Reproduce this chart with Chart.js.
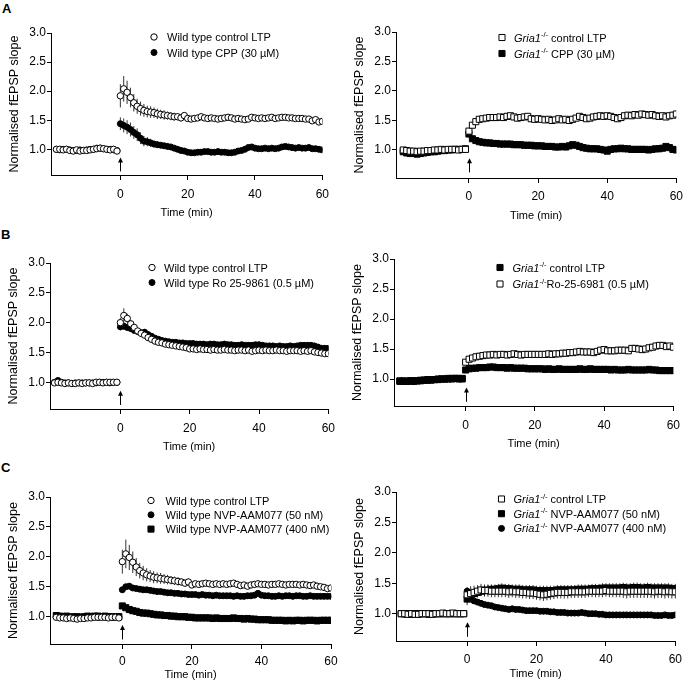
<!DOCTYPE html>
<html>
<head>
<meta charset="utf-8">
<script src="https://cdn.jsdelivr.net/npm/chart.js@4/dist/chart.umd.min.js"></script>
<style>
  html, body { margin:0; padding:0; background:#fff; overflow:hidden; }
  body { width:684px; height:683px; position:relative; }
  .lbl { position:absolute; font: bold 13px "Liberation Sans", Arial, sans-serif; line-height:13px; color:#000; }
</style>
</head>
<body>
<div class="lbl" style="left:2px;top:2px">A</div>
<div class="lbl" style="left:1px;top:228px">B</div>
<div class="lbl" style="left:1px;top:461px">C</div>
<script>
// ---------- shared axes ----------
const TIME_PRE  = [-19,-18,-17,-16,-15,-14,-13,-12,-11,-10,-9,-8,-7,-6,-5,-4,-3,-2,-1];
const TIME_POST = [0,1,2,3,4,5,6,7,8,9,10,11,12,13,14,15,16,17,18,19,20,21,22,23,24,25,26,27,28,29,30,
                   31,32,33,34,35,36,37,38,39,40,41,42,43,44,45,46,47,48,49,50,51,52,53,54,55,56,57,58,59,60];
const X_TICKS = [0, 20, 40, 60];
const Y_TICKS = [1.0, 1.5, 2.0, 2.5, 3.0];
const ARROW_SPAN = [0.62, 0.86];

// ---------- Panel A (left): wild type, CPP ----------
const A_WT_CTRL_PRE = [1.00,1.00,0.99,1.00,0.98,0.97,0.99,0.97,0.98,0.98,0.99,1.00,1.01,1.02,1.01,1.00,0.99,1.00,0.97];
const A_WT_CTRL_POST = [1.92,2.04,1.98,1.89,1.80,1.74,1.70,1.67,1.65,1.64,
  1.63,1.61,1.60,1.59,1.58,1.57,1.56,1.56,1.54,1.58,
  1.53,1.52,1.53,1.54,1.56,1.54,1.53,1.54,1.53,1.52,
  1.53,1.54,1.55,1.54,1.52,1.53,1.52,1.51,1.52,1.55,
  1.54,1.53,1.54,1.53,1.54,1.55,1.53,1.54,1.55,1.55,
  1.54,1.54,1.53,1.53,1.53,1.52,1.52,1.49,1.51,1.47,1.48];
const A_WT_CTRL_ERR = [0.20,0.22,0.20,0.17,0.15,0.13,0.12,0.11,0.10,0.10,
  0.09,0.09,0.08,0.08,0.07,0.07,0.07,0.06,0.06,0.06,
  0.06,0.05,0.05,0.05,0.05,0.05,0.05,0.05,0.05,0.05,
  0.05,0.05,0.05,0.04,0.04,0.04,0.04,0.04,0.04,0.04,
  0.04,0.04,0.04,0.04,0.04,0.04,0.04,0.04,0.04,0.04,
  0.04,0.04,0.04,0.04,0.04,0.04,0.04,0.04,0.04,0.04,0.04];
const A_WT_CPP_PRE = [1.00,0.99,1.00,1.00,0.99,0.98,0.98,0.99,0.98,0.99,1.00,1.00,1.02,1.02,1.01,1.00,1.00,0.99,0.98];
const A_WT_CPP_POST = [1.44,1.41,1.38,1.34,1.29,1.25,1.19,1.14,1.13,1.11,
  1.09,1.08,1.07,1.06,1.05,1.04,1.02,1.00,0.98,0.97,
  0.95,0.94,0.94,0.95,0.95,0.96,0.96,0.95,0.95,0.96,
  0.95,0.95,0.94,0.94,0.95,0.97,0.98,1.00,1.03,1.04,
  1.02,1.01,1.01,1.02,1.01,1.02,1.01,1.02,1.04,1.05,
  1.04,1.03,1.02,1.03,1.02,1.02,1.03,1.01,1.01,1.00,0.99];
const A_WT_CPP_ERR = [0.11,0.12,0.12,0.12,0.11,0.11,0.10,0.09,0.08,0.07,
  0.06,0.06,0.05,0.05,0.05,0.05,0.04,0.04,0.04,0.04,
  0.03,0.03,0.03,0.03,0.03,0.03,0.03,0.03,0.03,0.03,
  0.03,0.03,0.03,0.03,0.03,0.03,0.03,0.03,0.03,0.03,
  0.03,0.03,0.03,0.03,0.03,0.03,0.03,0.03,0.03,0.03,
  0.03,0.03,0.03,0.03,0.03,0.03,0.03,0.03,0.03,0.03,0.03];

// ---------- Panel A (right): Gria1-/-, CPP ----------
const A_KO_CTRL_PRE = [1.00,0.99,0.98,0.98,0.97,0.98,0.98,0.99,0.99,1.00,1.00,1.01,1.00,1.01,1.01,1.01,1.00,1.01,1.01];
const A_KO_CTRL_POST = [1.32,1.42,1.48,1.52,1.53,1.54,1.55,1.55,1.55,1.56,
  1.55,1.57,1.58,1.56,1.54,1.55,1.56,1.57,1.53,1.52,
  1.53,1.52,1.51,1.52,1.50,1.51,1.53,1.51,1.52,1.50,
  1.52,1.54,1.57,1.55,1.53,1.54,1.56,1.57,1.58,1.57,
  1.58,1.57,1.55,1.53,1.55,1.58,1.59,1.58,1.60,1.59,
  1.61,1.60,1.59,1.60,1.58,1.57,1.58,1.56,1.58,1.59,1.61];
const A_KO_CPP_PRE = [0.97,0.95,0.94,0.94,0.93,0.94,0.95,0.96,0.97,0.97,0.98,0.99,0.99,1.00,1.00,1.01,1.01,1.01,1.02];
const A_KO_CPP_POST = [1.27,1.19,1.16,1.14,1.13,1.12,1.12,1.11,1.11,1.10,
  1.10,1.10,1.10,1.09,1.09,1.09,1.08,1.08,1.08,1.07,
  1.07,1.07,1.06,1.06,1.06,1.05,1.05,1.06,1.05,1.07,
  1.09,1.08,1.06,1.04,1.03,1.02,1.02,1.02,1.01,1.00,
  0.98,1.01,1.02,1.02,1.03,1.02,1.02,1.01,1.01,1.01,
  1.01,1.01,1.00,1.01,1.02,1.02,1.03,1.06,1.04,1.01,1.00];

// ---------- Panel B (left): wild type, Ro 25-6981 ----------
const B_WT_CTRL_PRE = [0.99,1.00,0.99,0.98,0.99,0.98,0.98,0.99,0.98,0.99,0.99,0.98,1.00,1.00,0.99,1.00,1.00,1.00,1.00];
const B_WT_CTRL_POST = [2.00,2.12,2.07,1.98,1.92,1.86,1.82,1.79,1.75,1.72,
  1.69,1.67,1.66,1.64,1.63,1.62,1.61,1.60,1.59,1.58,
  1.56,1.56,1.55,1.56,1.55,1.55,1.54,1.55,1.54,1.54,
  1.55,1.54,1.54,1.53,1.54,1.54,1.53,1.54,1.52,1.53,
  1.54,1.53,1.54,1.53,1.53,1.54,1.53,1.53,1.52,1.53,
  1.53,1.53,1.52,1.53,1.52,1.53,1.51,1.50,1.49,1.48,1.48];
const B_WT_CTRL_ERR = [0.08,0.12,0.08,0.06,0.05,0.05,0.04,0.04,0.04,0.04,
  0.03,0.03,0.03,0.03,0.03,0.03,0.03,0.03,0.03,0.03,
  0.03,0.03,0.03,0.03,0.03,0.03,0.03,0.03,0.03,0.03,
  0.03,0.03,0.03,0.03,0.03,0.03,0.03,0.03,0.03,0.03,
  0.03,0.03,0.03,0.03,0.03,0.03,0.03,0.03,0.03,0.03,
  0.03,0.03,0.03,0.03,0.03,0.03,0.03,0.03,0.03,0.03,0.03];
const B_WT_RO_PRE = [1.00,1.03,1.00,0.99,0.99,0.98,0.99,0.99,0.99,0.99,0.99,0.99,0.99,1.00,1.00,1.00,0.99,1.00,1.00];
const B_WT_RO_POST = [1.93,1.94,1.92,1.90,1.87,1.85,1.83,1.84,1.80,1.77,
  1.74,1.72,1.70,1.69,1.68,1.67,1.67,1.66,1.66,1.65,
  1.65,1.65,1.64,1.64,1.64,1.63,1.64,1.64,1.63,1.63,
  1.64,1.63,1.63,1.62,1.62,1.63,1.62,1.62,1.62,1.63,
  1.63,1.62,1.61,1.61,1.61,1.60,1.61,1.60,1.60,1.61,
  1.60,1.61,1.62,1.62,1.62,1.62,1.61,1.59,1.57,1.57,1.57];
const B_WT_RO_ERR = [0.06,0.06,0.06,0.05,0.05,0.05,0.05,0.05,0.05,0.05,
  0.04,0.04,0.04,0.04,0.04,0.04,0.04,0.04,0.04,0.04,
  0.04,0.04,0.04,0.04,0.04,0.04,0.04,0.04,0.04,0.04,
  0.04,0.04,0.04,0.04,0.04,0.04,0.04,0.04,0.04,0.04,
  0.04,0.04,0.04,0.04,0.04,0.04,0.04,0.04,0.04,0.04,
  0.04,0.04,0.04,0.04,0.04,0.04,0.04,0.04,0.04,0.04,0.04];

// ---------- Panel B (right): Gria1-/-, Ro-25-6981 ----------
const B_KO_CTRL_PRE = [0.96,0.96,0.96,0.97,0.96,0.97,0.97,0.98,0.98,0.99,0.99,0.99,1.00,1.00,1.00,1.01,1.01,1.01,1.01];
const B_KO_CTRL_POST = [1.15,1.17,1.18,1.18,1.19,1.19,1.19,1.20,1.20,1.19,
  1.19,1.19,1.18,1.19,1.18,1.18,1.18,1.18,1.17,1.17,
  1.17,1.17,1.17,1.16,1.17,1.16,1.16,1.17,1.16,1.16,
  1.16,1.16,1.16,1.17,1.16,1.16,1.17,1.16,1.16,1.16,
  1.16,1.16,1.15,1.16,1.15,1.15,1.15,1.16,1.15,1.15,
  1.15,1.15,1.15,1.16,1.15,1.15,1.14,1.14,1.14,1.14,1.14];
const B_KO_RO_PRE = [0.97,0.97,0.96,0.97,0.97,0.97,0.98,0.98,0.99,0.98,0.99,1.00,1.00,1.00,1.01,1.00,1.01,1.00,1.00];
const B_KO_RO_POST = [1.28,1.33,1.35,1.37,1.38,1.39,1.40,1.40,1.41,1.40,
  1.41,1.41,1.40,1.41,1.42,1.41,1.40,1.41,1.41,1.41,
  1.41,1.41,1.41,1.41,1.42,1.41,1.42,1.42,1.43,1.43,
  1.44,1.44,1.45,1.46,1.45,1.45,1.45,1.44,1.46,1.48,
  1.49,1.47,1.47,1.47,1.48,1.48,1.48,1.47,1.51,1.51,
  1.50,1.49,1.50,1.52,1.53,1.55,1.56,1.56,1.54,1.55,1.53];

// ---------- Panel C (left): wild type, NVP-AAM077 ----------
const C_WT_CTRL_PRE = [0.99,0.98,0.98,0.97,0.98,0.97,0.96,0.97,0.97,0.98,0.98,0.99,0.99,0.99,0.99,0.98,0.99,0.99,0.98];
const C_WT_CTRL_POST = [1.92,2.05,1.99,1.91,1.83,1.77,1.73,1.70,1.68,1.66,
  1.65,1.64,1.63,1.62,1.61,1.60,1.59,1.58,1.56,1.58,
  1.53,1.55,1.54,1.55,1.56,1.55,1.54,1.55,1.54,1.55,
  1.54,1.55,1.56,1.54,1.52,1.53,1.51,1.53,1.54,1.55,
  1.54,1.54,1.53,1.54,1.54,1.55,1.54,1.53,1.54,1.54,
  1.54,1.53,1.54,1.53,1.52,1.53,1.51,1.50,1.49,1.47,1.48];
const C_WT_CTRL_ERR = [0.20,0.24,0.21,0.18,0.15,0.13,0.12,0.11,0.10,0.10,
  0.09,0.09,0.08,0.08,0.07,0.07,0.07,0.06,0.06,0.06,
  0.05,0.05,0.05,0.05,0.05,0.05,0.05,0.05,0.05,0.05,
  0.05,0.05,0.05,0.05,0.05,0.05,0.05,0.05,0.05,0.05,
  0.04,0.04,0.04,0.04,0.04,0.04,0.04,0.04,0.04,0.04,
  0.04,0.04,0.04,0.04,0.04,0.04,0.04,0.04,0.04,0.04,0.04];
const C_WT_50_PRE = [1.00,0.99,0.99,0.98,0.99,0.98,0.99,0.99,0.99,0.99,1.00,1.00,0.99,1.00,1.00,0.99,0.99,1.00,1.00];
const C_WT_50_POST = [1.45,1.50,1.51,1.48,1.47,1.46,1.45,1.45,1.44,1.43,
  1.42,1.42,1.41,1.40,1.40,1.39,1.39,1.38,1.38,1.37,
  1.37,1.37,1.36,1.37,1.36,1.36,1.35,1.36,1.35,1.35,
  1.35,1.35,1.34,1.35,1.34,1.34,1.35,1.35,1.36,1.39,
  1.36,1.35,1.35,1.34,1.34,1.35,1.34,1.35,1.35,1.34,
  1.35,1.35,1.34,1.34,1.35,1.34,1.34,1.34,1.34,1.34,1.34];
const C_WT_50_ERR = [0.05,0.05,0.05,0.05,0.04,0.04,0.04,0.04,0.04,0.04,
  0.03,0.03,0.03,0.03,0.03,0.03,0.03,0.03,0.03,0.03,
  0.03,0.03,0.03,0.03,0.03,0.03,0.03,0.03,0.03,0.03,
  0.03,0.03,0.03,0.03,0.03,0.03,0.03,0.03,0.03,0.03,
  0.03,0.03,0.03,0.03,0.03,0.03,0.03,0.03,0.03,0.03,
  0.03,0.03,0.03,0.03,0.03,0.03,0.03,0.03,0.03,0.03,0.03];
const C_WT_400_PRE = [1.02,1.01,1.00,1.01,0.99,1.00,1.00,0.99,1.00,1.01,1.00,1.01,1.01,1.00,1.01,1.00,1.00,0.99,1.00];
const C_WT_400_POST = [1.18,1.15,1.12,1.10,1.09,1.07,1.06,1.06,1.05,1.04,
  1.03,1.03,1.02,1.02,1.01,1.01,1.00,1.00,1.00,0.99,
  0.99,0.98,0.98,0.98,0.98,0.98,0.97,0.98,0.97,0.97,
  0.97,0.97,0.98,0.97,0.97,0.96,0.97,0.96,0.96,0.95,
  0.95,0.95,0.95,0.94,0.94,0.94,0.94,0.93,0.94,0.93,
  0.94,0.94,0.93,0.94,0.94,0.94,0.93,0.94,0.94,0.94,0.94];

// ---------- Panel C (right): Gria1-/-, NVP-AAM077 ----------
const C_KO_CTRL_PRE = [1.00,1.00,0.99,1.00,0.99,0.99,1.00,1.00,1.00,0.99,1.00,1.00,1.01,1.00,1.00,1.01,1.00,1.00,1.00];
const C_KO_CTRL_POST = [1.31,1.33,1.35,1.37,1.39,1.38,1.38,1.37,1.37,1.37,
  1.37,1.37,1.36,1.37,1.36,1.36,1.35,1.35,1.34,1.34,
  1.33,1.32,1.31,1.32,1.33,1.34,1.35,1.35,1.35,1.35,
  1.36,1.36,1.36,1.36,1.36,1.37,1.37,1.37,1.37,1.37,
  1.38,1.37,1.37,1.37,1.37,1.37,1.36,1.37,1.37,1.37,
  1.37,1.37,1.37,1.37,1.36,1.37,1.37,1.36,1.37,1.36,1.36];
const C_KO_CTRL_ERR = [0.13,0.12,0.11,0.10,0.10,0.10,0.10,0.10,0.10,0.10,
  0.10,0.10,0.10,0.10,0.10,0.10,0.10,0.10,0.10,0.10,
  0.10,0.10,0.10,0.10,0.10,0.10,0.10,0.10,0.10,0.10,
  0.10,0.10,0.10,0.10,0.10,0.10,0.10,0.10,0.10,0.10,
  0.10,0.10,0.10,0.10,0.10,0.11,0.11,0.11,0.11,0.11,
  0.11,0.11,0.11,0.11,0.11,0.11,0.11,0.11,0.11,0.11,0.11];
const C_KO_50_PRE = [1.00,1.00,1.00,0.99,1.00,1.00,1.00,1.00,0.99,1.00,1.00,1.00,1.00,1.00,1.00,1.00,1.00,1.00,1.00];
const C_KO_50_POST = [1.24,1.30,1.33,1.35,1.37,1.38,1.39,1.40,1.40,1.41,
  1.42,1.41,1.41,1.40,1.40,1.40,1.39,1.39,1.39,1.39,
  1.38,1.38,1.38,1.38,1.38,1.38,1.39,1.39,1.39,1.39,
  1.39,1.39,1.40,1.40,1.40,1.40,1.41,1.41,1.41,1.42,
  1.42,1.42,1.42,1.42,1.42,1.43,1.42,1.42,1.43,1.43,
  1.42,1.42,1.43,1.42,1.42,1.42,1.42,1.42,1.42,1.41,1.41];
const C_KO_50_ERR = [0.10,0.09,0.08,0.08,0.08,0.08,0.08,0.08,0.08,0.08,
  0.08,0.08,0.08,0.08,0.08,0.08,0.08,0.08,0.08,0.08,
  0.08,0.08,0.08,0.08,0.08,0.08,0.08,0.08,0.08,0.08,
  0.08,0.08,0.08,0.08,0.08,0.08,0.08,0.08,0.08,0.08,
  0.08,0.08,0.08,0.08,0.08,0.08,0.08,0.08,0.08,0.08,
  0.08,0.08,0.08,0.08,0.08,0.08,0.08,0.08,0.08,0.08,0.08];
const C_KO_400_PRE = [1.00,0.99,1.00,1.00,1.00,0.99,1.00,1.00,1.00,1.00,1.00,1.00,1.00,1.00,1.01,1.00,1.00,1.00,1.00];
const C_KO_400_POST = [1.37,1.24,1.21,1.19,1.17,1.15,1.14,1.13,1.11,1.10,
  1.09,1.08,1.07,1.08,1.07,1.07,1.06,1.05,1.05,1.05,
  1.05,1.04,1.04,1.04,1.03,1.03,1.02,1.02,1.02,1.01,
  1.01,1.01,1.01,1.02,1.01,1.00,1.00,1.00,0.99,0.99,
  0.98,0.98,0.98,0.98,0.98,0.98,0.98,0.98,0.98,0.98,
  0.98,0.98,0.98,0.98,0.97,0.97,0.97,0.98,0.97,0.97,0.98];

// ---------- styling ----------
const FONT = '"Liberation Sans", Arial, Helvetica, sans-serif';
Chart.defaults.font.family = FONT;
Chart.defaults.color = '#000';

const MK = {
  openCircle:   { style:'circle', r:3.2, fill:'#ffffff' },
  filledCircle: { style:'circle', r:3.0, fill:'#000000' },
  openSquare:   { style:'rect',   r:4.3, fill:'#ffffff' },
  filledSquare: { style:'rect',   r:4.3, fill:'#000000' }
};

function series(label, pre, post, err, mk) {
  const m = MK[mk];
  const data = TIME_PRE.map((t, i) => ({ x: t, y: pre[i] }))
    .concat(TIME_POST.map((t, i) => ({ x: t, y: post[i] })));
  return {
    label, data, errPost: err || null, errOffset: pre.length,
    showLine: false, pointStyle: m.style, pointRadius: m.r, pointHoverRadius: m.r,
    pointBackgroundColor: m.fill, pointBorderColor: '#000', pointBorderWidth: 1
  };
}

function drawMarker(ctx, mk, x, y) {
  const m = MK[mk];
  ctx.save();
  ctx.fillStyle = m.fill; ctx.strokeStyle = '#000'; ctx.lineWidth = 1;
  ctx.beginPath();
  if (m.style === 'circle') ctx.arc(x, y, m.r, 0, Math.PI * 2);
  else { const s = m.r * Math.SQRT1_2; ctx.rect(x - s, y - s, 2 * s, 2 * s); }
  ctx.fill(); ctx.stroke();
  ctx.restore();
}

const errorBarPlugin = {
  id: 'errorBars',
  beforeDatasetsDraw(chart) {
    const ctx = chart.ctx, ys = chart.scales.y;
    ctx.save();
    ctx.strokeStyle = '#000'; ctx.lineWidth = 0.8;
    chart.data.datasets.forEach((ds, di) => {
      if (!ds.errPost) return;
      const meta = chart.getDatasetMeta(di);
      meta.data.forEach((pt, i) => {
        const k = i - ds.errOffset;
        if (k < 0) return;
        const e = ds.errPost[k], v = ds.data[i].y;
        ctx.beginPath();
        ctx.moveTo(pt.x, ys.getPixelForValue(v - e));
        ctx.lineTo(pt.x, ys.getPixelForValue(v + e));
        ctx.stroke();
      });
    });
    ctx.restore();
  }
};

const arrowPlugin = {
  id: 'stimArrow',
  afterDatasetsDraw(chart) {
    const ctx = chart.ctx;
    const x = Math.round(chart.scales.x.getPixelForValue(0)) + 0.5;
    const yb = chart.scales.y.getPixelForValue(ARROW_SPAN[0]);
    const yt = chart.scales.y.getPixelForValue(ARROW_SPAN[1]);
    ctx.save();
    ctx.strokeStyle = '#000'; ctx.fillStyle = '#000'; ctx.lineWidth = 1;
    ctx.beginPath(); ctx.moveTo(x, yb); ctx.lineTo(x, yt + 4); ctx.stroke();
    ctx.beginPath(); ctx.moveTo(x, yt); ctx.lineTo(x - 2.5, yt + 5); ctx.lineTo(x + 2.5, yt + 5); ctx.closePath(); ctx.fill();
    ctx.restore();
  }
};

const legendPlugin = {
  id: 'panelLegend',
  afterDraw(chart, args, o) {
    const ctx = chart.ctx;
    const offX = parseFloat(chart.canvas.style.left), offY = parseFloat(chart.canvas.style.top);
    ctx.save();
    ctx.fillStyle = '#000';
    ctx.textBaseline = 'alphabetic';
    ctx.textAlign = 'left';
    o.items.forEach((it, i) => {
      const y = o.y0 + i * o.dy - offY;
      drawMarker(ctx, it.marker, o.markerX - offX, y);
      let x = o.textX - offX;
      it.parts.forEach(p => {
        ctx.font = (p.it ? 'italic ' : '') + (p.sup ? '7.5px ' : '11px ') + FONT;
        ctx.fillText(p.t, x, y + 4 - (p.sup ? 4.5 : 0));
        x += ctx.measureText(p.t).width;
      });
    });
    ctx.restore();
  }
};

const GRIA = [{ t: 'Gria1', it: true }, { t: '-/-', sup: true }];

const YW = 44, PADT = 10, PADR = 12;

const PANELS = [
  { geom: { left: 51, top: 33, right: 324, bottom: 175, xMin: -20.6, yMin: 0.558, xh: 45, tickPad: 7 },
    legend: { markerX: 154, textX: 167, y0: 37, dy: 15.5, items: [
      { marker: 'openCircle', parts: [{ t: 'Wild type control LTP' }] },
      { marker: 'filledCircle', parts: [{ t: 'Wild type CPP (30 µM)' }] } ] },
    datasets: [
      series('Wild type control LTP', A_WT_CTRL_PRE, A_WT_CTRL_POST, A_WT_CTRL_ERR, 'openCircle'),
      series('Wild type CPP (30 µM)', A_WT_CPP_PRE, A_WT_CPP_POST, A_WT_CPP_ERR, 'filledCircle') ] },
  { geom: { left: 396, top: 32, right: 677, bottom: 178, xMin: -21.1, yMin: 0.525, xh: 45, tickPad: 6 },
    legend: { markerX: 502, textX: 514, y0: 37.5, dy: 16, items: [
      { marker: 'openSquare', parts: GRIA.concat([{ t: ' control LTP' }]) },
      { marker: 'filledSquare', parts: GRIA.concat([{ t: ' CPP (30 µM)' }]) } ] },
    datasets: [
      series('Gria1-/- control LTP', A_KO_CTRL_PRE, A_KO_CTRL_POST, null, 'openSquare'),
      series('Gria1-/- CPP (30 µM)', A_KO_CPP_PRE, A_KO_CPP_POST, null, 'filledSquare') ] },
  { geom: { left: 50, top: 263, right: 330, bottom: 409, xMin: -20.3, yMin: 0.552, xh: 45, tickPad: 7 },
    legend: { markerX: 152, textX: 164, y0: 267.5, dy: 15, items: [
      { marker: 'openCircle', parts: [{ t: 'Wild type control LTP' }] },
      { marker: 'filledCircle', parts: [{ t: 'Wild type Ro 25-9861 (0.5 µM)' }] } ] },
    datasets: [
      series('Wild type control LTP', B_WT_CTRL_PRE, B_WT_CTRL_POST, B_WT_CTRL_ERR, 'openCircle'),
      series('Wild type Ro 25-9861 (0.5 µM)', B_WT_RO_PRE, B_WT_RO_POST, B_WT_RO_ERR, 'filledCircle') ] },
  { geom: { left: 394, top: 259, right: 675, bottom: 406, xMin: -20.7, yMin: 0.55, xh: 45, tickPad: 7 },
    legend: { markerX: 500, textX: 512.5, y0: 267.5, dy: 16.5, items: [
      { marker: 'filledSquare', parts: GRIA.concat([{ t: ' control LTP' }]) },
      { marker: 'openSquare', parts: GRIA.concat([{ t: 'Ro-25-6981 (0.5 µM)' }]) } ] },
    datasets: [
      series('Gria1-/- control LTP', B_KO_CTRL_PRE, B_KO_CTRL_POST, null, 'filledSquare'),
      series('Gria1-/- Ro-25-6981 (0.5 µM)', B_KO_RO_PRE, B_KO_RO_POST, null, 'openSquare') ] },
  { geom: { left: 50, top: 497, right: 331, bottom: 644, xMin: -20.8, yMin: 0.544, xh: 38, tickPad: 5 },
    legend: { markerX: 151, textX: 165.5, y0: 500.5, dy: 14.3, items: [
      { marker: 'openCircle', parts: [{ t: 'Wild type control LTP' }] },
      { marker: 'filledCircle', parts: [{ t: 'Wild type NVP-AAM077 (50 nM)' }] },
      { marker: 'filledSquare', parts: [{ t: 'Wild type NVP-AAM077 (400 nM)' }] } ] },
    datasets: [
      series('Wild type control LTP', C_WT_CTRL_PRE, C_WT_CTRL_POST, C_WT_CTRL_ERR, 'openCircle'),
      series('Wild type NVP-AAM077 (50 nM)', C_WT_50_PRE, C_WT_50_POST, C_WT_50_ERR, 'filledCircle'),
      series('Wild type NVP-AAM077 (400 nM)', C_WT_400_PRE, C_WT_400_POST, null, 'filledSquare') ] },
  { geom: { left: 396, top: 492, right: 676, bottom: 641, xMin: -20.5, yMin: 0.551, xh: 40, tickPad: 6 },
    legend: { markerX: 501.5, textX: 513.5, y0: 499, dy: 14.7, items: [
      { marker: 'openSquare', parts: GRIA.concat([{ t: ' control LTP' }]) },
      { marker: 'filledSquare', parts: GRIA.concat([{ t: ' NVP-AAM077 (50 nM)' }]) },
      { marker: 'filledCircle', parts: GRIA.concat([{ t: ' NVP-AAM077 (400 nM)' }]) } ] },
    datasets: [
      series('Gria1-/- control LTP', C_KO_CTRL_PRE, C_KO_CTRL_POST, C_KO_CTRL_ERR, 'openSquare'),
      series('Gria1-/- NVP-AAM077 (50 nM)', C_KO_50_PRE, C_KO_50_POST, C_KO_50_ERR, 'filledSquare'),
      series('Gria1-/- NVP-AAM077 (400 nM)', C_KO_400_PRE, C_KO_400_POST, null, 'filledCircle') ] }
];

PANELS.forEach(p => {
  const g = p.geom;
  const L = g.left - YW, T = g.top - PADT;
  const W = (g.right - g.left) + YW + PADR, H = (g.bottom - g.top) + PADT + g.xh;
  const cv = document.createElement('canvas');
  cv.width = W; cv.height = H;
  cv.style.cssText = `position:absolute;left:${L}px;top:${T}px;width:${W}px;height:${H}px`;
  document.body.appendChild(cv);
  new Chart(cv, {
    type: 'scatter',
    data: { datasets: p.datasets },
    plugins: [errorBarPlugin, arrowPlugin, legendPlugin],
    options: {
      responsive: false, animation: false, devicePixelRatio: 1, events: [],
      layout: { padding: { left: 0, top: PADT, right: PADR, bottom: 0 } },
      plugins: { legend: { display: false }, tooltip: { enabled: false }, panelLegend: p.legend },
      scales: {
        x: {
          type: 'linear', min: g.xMin, max: 60,
          afterBuildTicks: s => { s.ticks = X_TICKS.map(v => ({ value: v })); },
          afterFit: s => { s.height = g.xh; },
          grid: { display: true, drawOnChartArea: false, drawTicks: true, tickLength: 5, color: '#000', lineWidth: 1 },
          border: { display: true, color: '#000', width: 1 },
          ticks: { padding: g.tickPad, color: '#000', font: { size: 12 }, maxRotation: 0, minRotation: 0, autoSkip: false },
          title: { display: true, text: 'Time (min)', color: '#000', font: { size: 11 }, padding: 0 }
        },
        y: {
          type: 'linear', min: g.yMin, max: 3.0,
          afterBuildTicks: s => { s.ticks = Y_TICKS.map(v => ({ value: v })); },
          afterFit: s => { s.width = YW; },
          grid: { display: true, drawOnChartArea: false, drawTicks: true, tickLength: 4, color: '#000', lineWidth: 1 },
          border: { display: true, color: '#000', width: 1 },
          ticks: { padding: 1, color: '#000', font: { size: 12 }, callback: v => v.toFixed(1) },
          title: { display: true, text: 'Normalised fEPSP slope', color: '#000', font: { size: 12.5 }, padding: 0 }
        }
      }
    }
  });
});
</script>
</body>
</html>
